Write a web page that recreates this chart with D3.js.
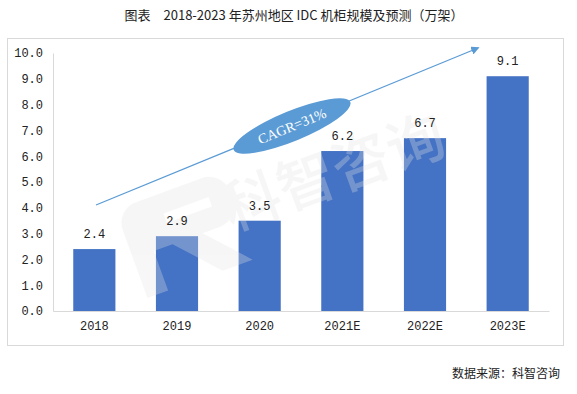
<!DOCTYPE html>
<html>
<head>
<meta charset="utf-8">
<script src="https://cdn.jsdelivr.net/npm/d3@7"></script>
<style>
  body { margin: 0; background: #fff; }
  svg { display: block; }
</style>
</head>
<body>
<svg width="577" height="394"></svg>
<script>
// chart data
const years = ["2018", "2019", "2020", "2021E", "2022E", "2023E"];
const racks = [2.4, 2.9, 3.5, 6.2, 6.7, 9.1];
const yTicks = [0, 1, 2, 3, 4, 5, 6, 7, 8, 9, 10];

const svg = d3.select("svg");
const cjk = "'Noto Sans CJK SC', 'Noto Sans', sans-serif";
const num = "'Liberation Mono', 'DejaVu Sans Mono', monospace";

// title
svg.append("text")
    .attr("x", 294).attr("y", 20)
    .attr("text-anchor", "middle")
    .style("font-family", cjk).style("font-size", "13px").style("fill", "#222")
    .text("图表　2018-2023 年苏州地区 IDC 机柜规模及预测（万架）");

// outer frame
svg.append("rect")
    .attr("x", 7.5).attr("y", 38.5).attr("width", 556).attr("height", 307)
    .attr("fill", "none").attr("stroke", "#d9d9d9");

// scales
const x = d3.scaleBand().domain(years).range([53, 549]).paddingInner(0.49).paddingOuter(0.245);
const y = d3.scaleLinear().domain([0, 10]).range([311, 53]);

// axes
const yAxis = svg.append("g").attr("transform", "translate(53,0)")
    .call(d3.axisLeft(y).tickValues(yTicks).tickSize(0).tickPadding(10).tickFormat(d3.format(".1f")));
yAxis.select(".domain").attr("stroke", "#d9d9d9");
yAxis.selectAll("text").style("font-family", num).style("font-size", "12px").style("fill", "#222");

const xAxis = svg.append("g").attr("transform", "translate(0,311)")
    .call(d3.axisBottom(x).tickSize(0).tickPadding(10));
xAxis.select(".domain").attr("stroke", "#d9d9d9");
xAxis.selectAll("text").style("font-family", num).style("font-size", "12px").style("fill", "#222");

// bars
svg.selectAll(".bar")
    .data(years)
    .enter()
    .append("rect")
    .attr("class", "bar")
    .attr("x", d => x(d))
    .attr("width", x.bandwidth())
    .attr("y", (d, i) => y(racks[i]))
    .attr("height", (d, i) => y(0) - y(racks[i]))
    .attr("fill", "#4472c4");

// watermark (semi-transparent, over the bars)
const wm = svg.append("g").attr("transform", "translate(300,185) rotate(-20)")
    .attr("fill", "#e4e4e4").attr("opacity", 0.3);
wm.append("path")
    .attr("d", "M-160,-40 h70 a22,22 0 0 1 22,22 v8 a22,22 0 0 1 -22,22 h-18 l38,42 h-32 l-38,-42 h-20 v42 h-22 v-72 a22,22 0 0 1 22,-22 z M-138,-20 v10 h48 v-10 z");
wm.append("text")
    .attr("x", -80).attr("y", 20)
    .style("font-family", cjk).style("font-size", "58px").style("font-weight", "500")
    .text("科智咨询");

// value labels
svg.selectAll(".val")
    .data(years)
    .enter()
    .append("text")
    .attr("class", "val")
    .attr("x", d => x(d) + x.bandwidth() / 2)
    .attr("y", (d, i) => y(racks[i]) - 11)
    .attr("text-anchor", "middle")
    .style("font-family", num).style("font-size", "12px").style("fill", "#222")
    .text((d, i) => racks[i].toFixed(1));

// CAGR arrow
const defs = svg.append("defs");
defs.append("marker")
    .attr("id", "arr").attr("viewBox", "0 0 10 10")
    .attr("refX", 8).attr("refY", 5)
    .attr("markerWidth", 7).attr("markerHeight", 7)
    .attr("orient", "auto")
    .append("path").attr("d", "M0,0 L10,5 L0,10 z").attr("fill", "#5b9bd5");

svg.append("line")
    .attr("x1", 96).attr("y1", 205).attr("x2", 478).attr("y2", 48)
    .attr("stroke", "#5b9bd5").attr("stroke-width", 1.2)
    .attr("marker-end", "url(#arr)");

const badge = svg.append("g").attr("transform", "translate(292,126) rotate(-22.3)");
badge.append("ellipse").attr("rx", 63).attr("ry", 15).attr("fill", "#5b9bd5");
badge.append("text")
    .attr("y", 5).attr("text-anchor", "middle")
    .style("font-family", "'Liberation Serif', serif").style("font-size", "14px").style("fill", "#fff")
    .text("CAGR=31%");

// source
svg.append("text")
    .attr("x", 560).attr("y", 378)
    .attr("text-anchor", "end")
    .style("font-family", cjk).style("font-size", "12px").style("fill", "#222")
    .text("数据来源：科智咨询");
</script>
</body>
</html>
